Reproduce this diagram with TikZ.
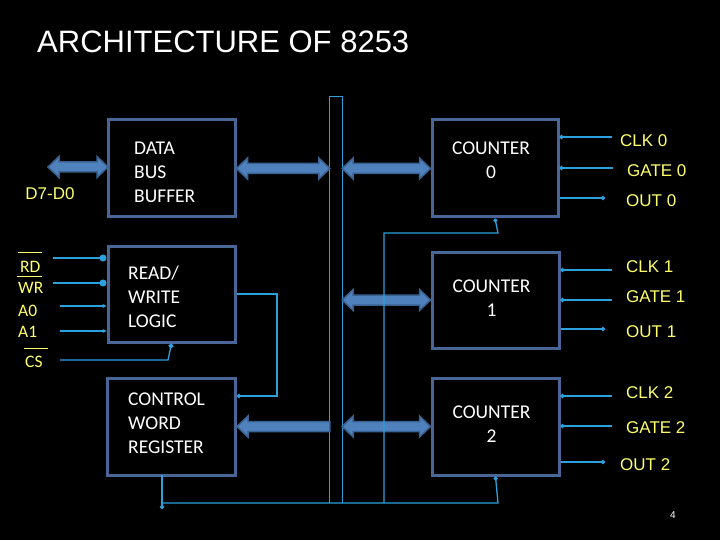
\documentclass[tikz,border=0pt]{standalone}
\usepackage{fontspec}
\setmainfont{Carlito}
\newfontfamily\arialf{Liberation Sans}
\usetikzlibrary{arrows.meta,calc}
\definecolor{boxcol}{RGB}{74,102,150}
\definecolor{blkfill}{RGB}{79,129,189}
\definecolor{blkline}{RGB}{58,98,145}
\definecolor{wire}{RGB}{45,160,222}
\definecolor{sig}{RGB}{255,255,110}
\newcommand\DblBlk[2]{\filldraw[fill=blkfill,draw=blkline,line width=1.5pt,line join=miter]
  (#1) -- ++(11,-10.5) -- ++(0,5.5) -- ($(#2)+(-11,-5)$) -- ++(0,-5.5) -- (#2) -- ++(-11,10.5) -- ++(0,-5.5) -- ($(#1)+(11,5)$) -- ++(0,5.5) -- cycle;}
\newcommand\LeftBlk[2]{\filldraw[fill=blkfill,draw=blkline,line width=1.5pt,line join=miter]
  (#1) -- ++(11,-10.5) -- ++(0,5.5) -- ($(#2)+(0,-5)$) -- ++(0,10) -- ($(#1)+(11,5)$) -- ++(0,5.5) -- cycle;}
\tikzset{
  box/.style={draw=boxcol,line width=3pt,inner sep=0pt},
  boxtext/.style={text=white,font=\fontsize{19.5}{24}\selectfont,align=left,inner sep=0pt,anchor=west},
  ctrtext/.style={text=white,font=\fontsize{19.5}{24}\selectfont,align=center,inner sep=0pt},
  siglab/.style={text=sig,font=\fontsize{17.5}{19}\selectfont,inner sep=0pt,anchor=west},
  outlab/.style={text=sig,font=\arialf\fontsize{17}{19}\selectfont,inner sep=0pt,anchor=west},
  wireln/.style={draw=wire,line width=1.3pt},
  bigdot/.style={-{Circle[length=7pt]}},
  smalldot/.style={-{Circle[length=4pt]}},
  startdot/.style={{Circle[length=4pt]}-},
  smalltip/.style={-{Stealth[length=4pt,width=4pt]}},
  ovl/.style={draw=sig,line width=1pt}
}
\begin{document}
\begin{tikzpicture}[x=1pt,y=-1pt]
\useasboundingbox[fill=black] (0,0) rectangle (720,540);
% title
\node[text=white,font=\arialf\fontsize{31}{36}\selectfont,inner sep=0pt,anchor=west] (title) at (37,42) {ARCHITECTURE OF 8253};
% boxes
\node[box,minimum width=127,minimum height=97] (dbb) at (171.5,168.5) {};
\node[box,minimum width=127,minimum height=96] (rwl) at (171.5,294) {};
\node[box,minimum width=128,minimum height=97] (cwr) at (171.5,426.5) {};
\node[box,minimum width=126,minimum height=97] (c0) at (495,168.5) {};
\node[box,minimum width=127,minimum height=96] (c1) at (495.5,300) {};
\node[box,minimum width=127,minimum height=97] (c2) at (495.5,426.5) {};
% box texts
\node[boxtext] (dbbt) at (134,172) {DATA\\BUS\\BUFFER};
\node[boxtext] (rwlt) at (128,297) {READ/\\WRITE\\LOGIC};
\node[boxtext] (cwrt) at (128,423) {CONTROL\\WORD\\REGISTER};
\node[ctrtext] (c0t) at (491,160) {COUNTER\\0};
\node[ctrtext] (c1t) at (491.5,298) {COUNTER\\1};
\node[ctrtext] (c2t) at (491.5,424) {COUNTER\\2};
% bus
\node[minimum width=12,minimum height=406,inner sep=0pt] (bus) at (336,300) {};
\draw[wireln,line width=1.2pt] (bus.south west) -- (bus.north west) -- (bus.north east) -- (bus.south east);
% block arrows
\coordinate (dext) at (48,167);
\coordinate (dbbL) at (108,167);
\DblBlk{dext}{dbbL}
\DblBlk{dbb.east}{bus.west |- dbb.east}
\DblBlk{bus.east |- c0.west}{c0.west}
\DblBlk{bus.east |- c1.west}{c1.west}
\DblBlk{bus.east |- c2.west}{c2.west}
\LeftBlk{cwr.east}{bus.west |- cwr.east}
\node[text=sig,font=\arialf\fontsize{17}{19}\selectfont,inner sep=0pt] (dlab) at (50,194) {D7-D0};
% left signals
\node[siglab] (rd) at (20,267) {RD};
\node[siglab] (wr) at (18,288) {WR};
\node[siglab] (a0) at (18,311) {A0};
\node[siglab] (a1) at (18,332) {A1};
\node[siglab] (cs) at (25,362) {CS};
\draw[ovl] (18,252) -- (42,252);
\draw[ovl] (17,276) -- (42,276);
\draw[ovl] (24,348) -- (48,348);
\coordinate (rdS) at (53,258);
\coordinate (wrS) at (53,283);
\coordinate (a0S) at (60,306);
\coordinate (a1S) at (60,331);
\coordinate (csS) at (60,360);
\coordinate (csK) at (168,360);
\draw[wireln,bigdot] (rdS) -- (rdS -| rwl.west);
\draw[wireln,bigdot] (wrS) -- (wrS -| rwl.west);
\draw[wireln,smalltip] (a0S) -- (a0S -| rwl.west);
\draw[wireln,smalltip] (a1S) -- (a1S -| rwl.west);
\draw[wireln,-{Circle[length=5pt]}] (csS) -- (csK) -- (rwl.south);
% internal control wiring
\coordinate (rwK1) at (277,294);
\coordinate (rwK2) at (277,396);
\draw[wireln,smalldot] (rwl.east) -- (rwK1) -- (rwK2) -- (rwK2 -| cwr.east);
\coordinate (c0K1) at (498,233);
\coordinate (c0K2) at (384,233);
\coordinate (c0K3) at (384,503);
\draw[wireln,startdot] (c0.south) -- (c0K1) -- (c0K2) -- (c0K3);
\coordinate (cwB) at (162,475);
\coordinate (cwE) at (162,509);
\draw[wireln,smalldot] (cwB) -- (cwE);
\coordinate (botL) at (162,503);
\coordinate (botR) at (498,503);
\draw[wireln,smalldot] (botL) -- (botR) -- (c2.south);
% right signals counter 0
\coordinate (clk0E) at (612,137);
\coordinate (gate0E) at (613,168);
\coordinate (out0E) at (605,198);
\draw[wireln,startdot] (clk0E -| c0.east) -- (clk0E);
\draw[wireln,startdot] (gate0E -| c0.east) -- (gate0E);
\draw[wireln,smalldot] (out0E -| c0.east) -- (out0E);
\node[outlab] (clk0) at (620,141) {CLK 0};
\node[outlab] (gate0) at (627,171) {GATE 0};
\node[outlab] (out0) at (626,201) {OUT 0};
% counter 1
\coordinate (clk1E) at (612,270);
\coordinate (gate1E) at (612,300);
\coordinate (out1E) at (605,329);
\draw[wireln,startdot] (clk1E -| c1.east) -- (clk1E);
\draw[wireln,startdot] (gate1E -| c1.east) -- (gate1E);
\draw[wireln,smalldot] (out1E -| c1.east) -- (out1E);
\node[outlab] (clk1) at (626,267) {CLK 1};
\node[outlab] (gate1) at (626,297) {GATE 1};
\node[outlab] (out1) at (626,332) {OUT 1};
% counter 2
\coordinate (clk2E) at (612,396);
\coordinate (gate2E) at (612,426);
\coordinate (out2E) at (605,462);
\draw[wireln,startdot] (clk2E -| c2.east) -- (clk2E);
\draw[wireln,startdot] (gate2E -| c2.east) -- (gate2E);
\draw[wireln,smalldot] (out2E -| c2.east) -- (out2E);
\node[outlab] (clk2) at (626,393) {CLK 2};
\node[outlab] (gate2) at (626,428) {GATE 2};
\node[outlab] (out2) at (620,465) {OUT 2};
% page number
\node[text=white,font=\arialf\fontsize{10}{12}\selectfont,inner sep=0pt] (pg) at (673,515) {4};
\end{tikzpicture}
\end{document}
